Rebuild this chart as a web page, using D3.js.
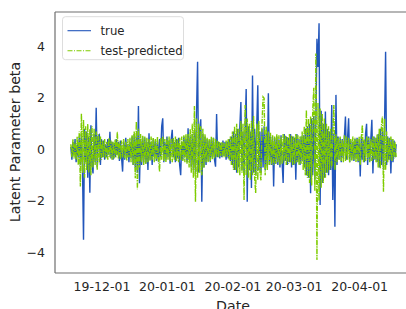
<!DOCTYPE html>
<html>
<head>
<meta charset="utf-8">
<script src="https://cdn.jsdelivr.net/npm/d3@7"></script>
<style>
  body { margin: 0; background: #fff; }
  text { font-family: "DejaVu Sans", sans-serif; fill: #262626; }
</style>
</head>
<body>
<div id="chart"></div>
<script>

// sampled every 12 hours, first sample 2019-11-16 12:00
var startDate = new Date(2019, 10, 16, 12);
var stepHours = 12;

var trueBeta = [
  0.1, -0.4, 0.3, -0.2, 0.4, -0.5, 0.2, -0.3, 0.5, -0.6,
  0.6, -0.7, -3.51, 0.8, -0.5, 0.7, -1.1, 0.5, -1.68, 0.94,
  -0.6, -0.93, 0.6, -0.5, 1.62, -0.7, 0.5, 0.56, -0.6, 0.4,
  -0.3, 0.35, -0.4, 0.2, -0.3, 0.4, -0.2, 0.69, -0.35, 0.3,
  -0.4, 0.25, -0.3, 0.4, -0.2, 0.3, -0.45, 0.35, -0.3, -0.86,
  0.3, -0.4, 0.45, -0.3, 0.2, -0.5, 0.3, -0.35, 0.5, -0.6,
  0.6, -0.7, 0.5, -0.9, 1.69, -1.31, 0.4, -0.6, 0.5, -0.5,
  0.45, -0.55, 0.3, -0.8, 0.63, -0.4, 0.3, -0.6, 0.4, -0.3,
  0.35, -0.45, 0.3, -0.5, 0.4, -0.3, 0.9, 1.21, -0.5, 0.3,
  -0.4, 0.5, -0.3, 0.35, -0.55, 0.4, 0.76, -0.3, 0.3, -0.5,
  0.4, -0.35, 0.45, -0.6, -1.0, 0.3, -0.4, 0.5, -0.3, 0.4,
  -0.5, 0.82, -0.4, 0.5, -0.67, 0.6, -0.8, 0.7, -0.9, 1.47,
  3.41, -0.9, 0.8, 1.17, -2.03, 0.6, -0.7, 0.5, -0.6, 0.4,
  -0.45, 0.35, -0.5, 0.4, -0.3, 0.45, -0.4, -0.67, 1.38, -0.3,
  0.3, -0.35, 0.25, -0.3, 0.35, -0.25, 0.3, -0.4, 0.3, -0.35,
  0.4, -0.45, 0.5, -0.6, 0.7, -0.8, 0.6, -0.9, 0.8, -0.7,
  0.9, 1.84, -0.8, 0.7, -1.0, 0.8, 2.35, -2.03, 0.9, -0.8,
  0.7, -1.5, 2.87, -0.9, 0.8, -1.0, 0.9, 2.49, -0.8, 0.7,
  -0.9, 0.8, -0.7, 0.9, -0.8, 0.6, -0.7, 2.18, -0.6, 0.5,
  -0.6, 0.5, -1.44, 0.45, -0.55, 0.5, -0.6, 0.4, -0.7, 0.55,
  -0.5, -1.3, 0.6, -0.45, 0.5, -0.6, 0.45, -0.5, 0.6, -0.7,
  0.5, -0.6, 0.45, -1.18, 0.6, -0.5, 0.4, -0.6, 0.5, -0.45,
  0.55, -0.7, 0.8, -1.0, 0.9, -1.1, 1.0, -1.7, 1.2, -1.0,
  1.3, -1.2, 1.1, 4.3, 3.2, 4.9, -2.16, 1.5, -1.3, 1.0,
  -1.1, 1.47, -0.9, 0.8, -1.0, 0.7, -0.8, 1.73, -1.96, 0.6,
  -3.0, 2.12, -0.6, 0.5, -0.4, 0.45, -0.5, 0.4, -0.35, 0.5,
  1.28, -0.4, 0.45, 1.21, -0.5, 0.35, -0.4, 0.3, -0.45, 0.4,
  -0.35, 0.45, -0.5, 0.4, -1.05, 0.5, -0.4, 0.35, -0.5, 0.6,
  1.0, -0.6, 0.5, -0.45, 0.4, 1.15, -0.93, 0.5, -0.4, 0.45,
  -0.5, 0.6, -0.7, 0.8, -0.6, 0.7, -0.8, 0.9, 3.8, -0.6,
  0.5, -0.4, 0.45, -0.93, 0.4, -0.5, 0.35, -0.3, 0.2
];

var predictedBeta = [
  0.2, -0.3, 0.4, -0.35, 0.3, -0.4, 0.5, -0.6, 0.7, -1.44,
  1.4, -0.9, 1.15, -1.1, 0.9, -0.8, 1.0, -0.9, 0.8, -1.0,
  0.9, -0.7, 0.8, -0.6, 0.7, -0.8, 0.6, -0.5, 0.5, -0.4,
  0.35, -0.3, 0.4, -0.35, 0.3, -0.4, 0.45, -0.3, 0.35, -0.4,
  0.3, -0.35, 0.4, -0.3, 0.69, -0.35, 0.3, -0.4, 0.35, -0.3,
  0.4, -0.35, 0.3, -0.45, 0.4, -0.3, 0.45, -0.5, 0.55, -0.6,
  0.7, -1.12, 1.08, -1.55, 0.8, -0.7, 0.6, -0.5, 0.55, -0.6,
  0.5, -0.55, 0.45, -0.5, 0.4, -0.45, 0.5, -0.4, 0.45, -0.5,
  0.4, -0.45, 0.5, -0.4, -0.86, 0.45, -0.4, 0.5, -0.45, 0.4,
  -0.5, 0.45, -0.4, 0.5, -0.45, 0.4, -0.5, 0.45, -0.4, 0.5,
  -0.45, 0.4, -0.5, 0.45, -0.4, 0.5, -0.45, 0.55, -0.5, 0.6,
  -0.55, 0.6, -0.7, 0.8, -0.9, 1.0, -1.1, 1.69, -2.03, 1.2,
  -1.1, 1.0, -0.9, 0.9, -1.0, 0.8, -0.7, 0.6, -0.5, 0.45,
  -0.5, 0.4, -0.45, 0.5, -0.4, 0.45, -0.35, 0.4, -0.3, 0.35,
  -0.3, 0.3, -0.25, 0.3, -0.3, 0.25, -0.3, 0.35, -0.3, 0.4,
  -0.4, 0.5, -0.6, 0.7, -0.8, 0.9, -0.8, 1.0, -0.9, 0.8,
  -1.0, 1.1, -0.9, 1.0, -1.96, 1.73, -1.0, 1.2, -1.1, 1.0,
  -1.2, 1.1, -1.0, 1.3, -1.1, -1.7, 1.0, -1.2, 1.1, -0.9,
  -1.2, 1.0, 2.04, 1.99, -1.0, 0.9, -0.8, 0.7, -0.6, 0.65,
  -0.6, 0.55, -0.6, 0.5, -0.55, 0.6, -0.5, 0.55, -0.6, 0.5,
  -0.55, 0.6, -0.5, 0.55, -0.6, 0.5, -0.55, 0.6, -0.5, 0.55,
  -0.6, 0.5, -0.55, 0.6, -0.5, 0.55, -0.6, 0.5, -0.55, 0.7,
  -0.8, 0.9, -1.0, 1.53, -1.1, 1.2, -1.3, 1.3, -1.4, 1.5,
  2.4, -1.6, 3.73, -4.29, 1.8, -2.0, 1.6, -1.5, 1.4, -1.3,
  1.2, -1.1, 1.0, -0.9, 0.9, -0.8, 0.8, -0.7, 0.7, 1.73,
  -0.8, 0.6, -0.5, 0.45, -0.4, 0.5, -0.45, 0.4, -0.5, 0.55,
  -0.45, 0.5, -0.4, 0.45, -0.5, 0.4, -0.45, 0.5, -0.4, 0.45,
  -0.5, 0.4, -0.45, 0.5, -0.6, 0.45, 0.95, -0.5, 0.4, -0.45,
  0.5, -0.4, 0.45, -0.5, 0.4, -0.45, 0.5, -0.4, 0.45, -0.5,
  0.6, -0.7, 0.8, -0.75, 0.9, 1.28, -1.64, 1.2, -0.8, 0.7,
  -0.5, 0.45, -0.4, 0.5, -0.45, 0.4, -0.35, 0.3, -0.3
];

var xTickLabels = ["19-12-01", "20-01-01", "20-02-01", "20-03-01", "20-04-01"];
var yTicks = [-4, -2, 0, 2, 4];
var seriesNames = ["true", "test-predicted"];

var svgWidth = 406;
var svgHeight = 309;

var margin = { top: 12, right: -6, bottom: 36, left: 55 };
var width = svgWidth - margin.left - margin.right;
var height = svgHeight - margin.top - margin.bottom;

var svg = d3.select("#chart")
  .append("svg")
  .attr("width", svgWidth)
  .attr("height", svgHeight);

var chartGroup = svg.append("g")
  .attr("transform", `translate(${margin.left}, ${margin.top})`);

var dates = trueBeta.map(function(d, i) {
  return d3.timeHour.offset(startDate, i * stepHours);
});

var parseTick = d3.timeParse("%y-%m-%d");

// scales
var xScale = d3.scaleTime()
  .domain([new Date(2019, 10, 9), new Date(2020, 3, 26)])
  .range([0, width]);

var yScale = d3.scaleLinear()
  .domain([-4.8, 5.34])
  .range([height, 0]);

// axes, no tick marks (seaborn white style)
var bottomAxis = d3.axisBottom(xScale)
  .tickValues(xTickLabels.map(parseTick))
  .tickFormat(d3.timeFormat("%y-%m-%d"))
  .tickSize(0)
  .tickPadding(9);

var leftAxis = d3.axisLeft(yScale)
  .tickValues(yTicks)
  .tickFormat(function(d) { return d < 0 ? "\u2212" + Math.abs(d) : d; })
  .tickSize(0)
  .tickPadding(10);

var xAxisG = chartGroup.append("g")
  .attr("transform", `translate(0, ${height})`)
  .call(bottomAxis);

var yAxisG = chartGroup.append("g")
  .call(leftAxis);

[xAxisG, yAxisG].forEach(function(g) {
  g.select(".domain").remove();
  g.selectAll("text")
    .attr("font-size", 12.5)
    .attr("fill", "#262626")
    .style("font-family", "DejaVu Sans");
});

// lines
var line = d3.line()
  .x(function(d, i) { return xScale(dates[i]); })
  .y(function(d) { return yScale(d); });

chartGroup.append("path")
  .datum(trueBeta)
  .attr("d", line)
  .attr("fill", "none")
  .attr("stroke", "#2256bb")
  .attr("stroke-width", 1.4);

chartGroup.append("path")
  .datum(predictedBeta)
  .attr("d", line)
  .attr("fill", "none")
  .attr("stroke", "#7fcc00")
  .attr("stroke-width", 1.4)
  .attr("stroke-dasharray", "5,1.2,1.2,1.2");

// frame
var spine = chartGroup.append("g")
  .attr("stroke", "#6e6e6e")
  .attr("stroke-width", 1.2);
spine.append("line").attr("x1", 0).attr("x2", 0).attr("y1", 0).attr("y2", height);
spine.append("line").attr("x1", 0).attr("x2", width).attr("y1", 0).attr("y2", 0);
spine.append("line").attr("x1", 0).attr("x2", width).attr("y1", height).attr("y2", height);

// legend
var legend = chartGroup.append("g")
  .attr("transform", "translate(7.5, 4.7)");

legend.append("rect")
  .attr("width", 121)
  .attr("height", 43)
  .attr("rx", 3)
  .attr("fill", "#fff")
  .attr("fill-opacity", 0.85)
  .attr("stroke", "#dddddd")
  .attr("stroke-width", 1);

var legendColors = ["#2256bb", "#7fcc00"];
var legendDash = [null, "5,1.5,1,1.5"];

seriesNames.forEach(function(name, i) {
  var yPos = 14 + i * 20;
  legend.append("line")
    .attr("x1", 5).attr("x2", 28.5)
    .attr("y1", yPos).attr("y2", yPos)
    .attr("stroke", legendColors[i])
    .attr("stroke-width", 1.1)
    .attr("stroke-dasharray", legendDash[i]);
  legend.append("text")
    .attr("x", 38)
    .attr("y", yPos)
    .attr("dy", "0.35em")
    .attr("font-size", 11.7)
    .text(name);
});

// axis labels
chartGroup.append("text")
  .attr("transform", `translate(${15 - margin.left}, ${142 - margin.top}) rotate(-90)`)
  .attr("text-anchor", "middle")
  .attr("dy", "0.35em")
  .attr("font-size", 14.2)
  .text("Latent Parameter beta");

chartGroup.append("text")
  .attr("x", 233 - margin.left)
  .attr("y", 311 - margin.top)
  .attr("text-anchor", "middle")
  .attr("font-size", 14.2)
  .text("Date");

</script>
</body>
</html>
